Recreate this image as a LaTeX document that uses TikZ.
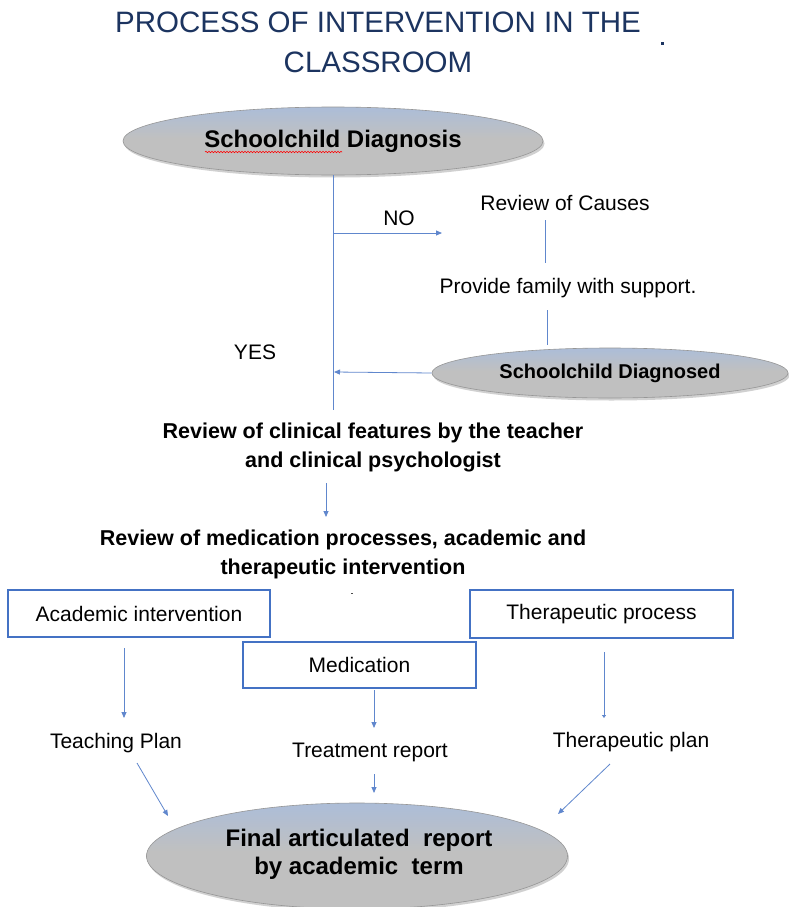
\documentclass[tikz,border=0pt]{standalone}
\usepackage{fontspec}
\setmainfont{Liberation Sans}
\usetikzlibrary{shapes.geometric,arrows.meta,shadows,decorations.pathmorphing}
\definecolor{navy}{RGB}{28,52,96}
\definecolor{lnblue}{RGB}{68,114,196}
\definecolor{ellgray}{RGB}{192,192,192}
\definecolor{ellblue}{RGB}{150,186,242}
\definecolor{elledge}{RGB}{150,150,150}
\pgfdeclareverticalshading{ellsh}{100bp}{color(0bp)=(ellgray); color(52bp)=(ellgray); color(100bp)=(ellblue)}
\begin{document}
\begin{tikzpicture}[x=1pt,y=-1pt,
  font=\fontsize{21}{25}\selectfont,
  ell/.style={ellipse, draw=elledge, line width=0.6pt, shading=ellsh, inner sep=0pt,
    drop shadow={opacity=0.3, fill=black!60, shadow xshift=1.5pt, shadow yshift=-2.5pt}},
  box/.style={draw=lnblue, line width=2.1pt, fill=white, inner sep=0pt},
  ln/.style={draw=lnblue!85, line width=0.8pt},
  arr/.style={ln, -{Triangle[length=6pt,width=5pt]}},
  lbl/.style={inner sep=0pt, align=center},
  bold/.style={lbl, font=\fontsize{21.5}{29}\selectfont\bfseries}]
\fill[white] (0,0) rectangle (789,907);
\useasboundingbox (0,0) rectangle (789,907);

% title
\node[lbl, text=navy, font=\fontsize{29.5}{40}\selectfont] (title) at (378,42)
  {PROCESS OF INTERVENTION IN THE\\CLASSROOM};
\fill[navy] (title.east) ++(20,0) coordinate (tdot) rectangle ++(3,3);

% ellipses
\node[ell, minimum width=420pt, minimum height=68pt,
  font=\fontsize{24}{28}\selectfont\bfseries] (e1) at (333,141) {Schoolchild Diagnosis};
\draw[red, line width=0.6pt, decorate, decoration={snake, amplitude=0.7pt, segment length=3pt}]
  (205,152) coordinate (sq1) -- (342,152) coordinate (sq2);

\node[ell, minimum width=356pt, minimum height=50pt,
  font=\fontsize{20}{24}\selectfont\bfseries] (e2) at (610,373) {Schoolchild Diagnosed};

\node[ell, minimum width=421pt, minimum height=106pt] (e3) at (357,856) {};
\node[lbl, font=\fontsize{24}{28}\selectfont\bfseries] (fin) at (359,854)
  {Final articulated \ report\\by academic \ term};

% side texts
\node[lbl] (no) at (399,218) {NO};
\node[lbl] (causes) at (565,203) {Review of Causes};
\node[lbl] (support) at (568,288) {Provide family with support.};
\node[lbl] (yes) at (255,352) {YES};

\node[bold] (clin) at (373,447) {Review of clinical features by the teacher\\and clinical psychologist};
\node[bold] (medrev) at (343,554) {Review of medication processes, academic and\\therapeutic intervention};
\fill[black!70] (medrev.south) ++(8,14) coordinate (mdot) rectangle ++(2,1.5);

% boxes
\node[box, minimum width=262pt, minimum height=47pt] (acad) at (139,613.5) {Academic intervention};
\node[box, minimum width=263pt, minimum height=48pt] (ther) at (601.5,614) {Therapeutic process};
\node[box, minimum width=233pt, minimum height=46pt] (med) at (359.5,665) {Medication};

\node[lbl] (teach) at (116,743) {Teaching Plan};
\node[lbl] (treat) at (370,752) {Treatment report};
\node[lbl] (tplan) at (631,742) {Therapeutic plan};

% coordinates for connectors
\coordinate (vend) at (333,410);
\coordinate (noS) at (333,233);
\coordinate (noE) at (442,233);
\coordinate (c1) at (545,220);
\coordinate (c2) at (545,263);
\coordinate (s1) at (547,310);
\coordinate (s2) at (547,345);
\coordinate (yesE) at (334,372);
\coordinate (k1) at (326,483);
\coordinate (k2) at (326,517);
\coordinate (a1) at (124,648);
\coordinate (a2) at (124,718);
\coordinate (m1) at (374,690);
\coordinate (m2) at (374,728);
\coordinate (t1) at (604,652);
\coordinate (t2) at (604,718);
\coordinate (p1) at (137,763);
\coordinate (p2) at (168,816);
\coordinate (r1) at (374,774);
\coordinate (r2) at (374,793);
\coordinate (q1) at (610,764);
\coordinate (q2) at (558,814);

% connectors
\draw[ln] (e1.south) -- (vend);
\draw[arr] (noS) -- (noE);
\draw[ln] (c1) -- (c2);
\draw[ln] (s1) -- (s2);
\draw[arr] (e2.west) -- (yesE);
\draw[arr] (k1) -- (k2);
\draw[arr] (a1) -- (a2);
\draw[arr] (m1) -- (m2);
\draw[ln, -{Triangle[length=3pt,width=4pt]}] (t1) -- (t2);
\draw[arr] (p1) -- (p2);
\draw[arr] (r1) -- (r2);
\draw[arr] (q1) -- (q2);
\end{tikzpicture}
\end{document}
